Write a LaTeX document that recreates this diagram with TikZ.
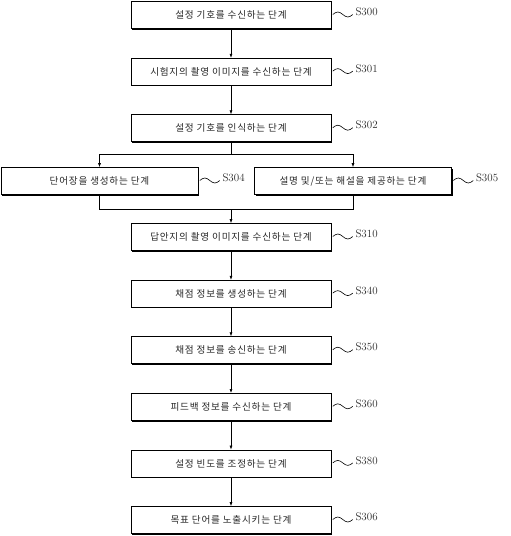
\documentclass[tikz,border=0pt]{standalone}
\usepackage{fontspec}
\usepackage{tikz}
\usetikzlibrary{arrows.meta, positioning, calc, shadows}
\newfontfamily\krfont[LetterSpace=8]{Noto Sans CJK KR}
\definecolor{inkgray}{RGB}{40,40,40}

\begin{document}
\begin{tikzpicture}[
    x=1pt, y=1pt,
    node distance=29pt,
    stepbox/.style={draw=black, fill=white, line width=0.6pt, minimum width=200pt, minimum height=27pt,
                    inner sep=0pt, font=\krfont\fontsize{9.6}{11}\selectfont, text=inkgray,
                    drop shadow={shadow xshift=1.2pt, shadow yshift=-1.2pt, fill=black, opacity=1}},
    sidebox/.style={stepbox, minimum width=197pt},
    steplabel/.style={font=\fontsize{11}{13}\selectfont, text=inkgray, inner sep=1pt, anchor=west},
    arr/.style={-{Latex[length=4pt, width=3pt]}, line width=0.6pt},
    plain/.style={line width=0.6pt},
]
\useasboundingbox (0,0) rectangle (511,-536);

% --- Upper chain ---
\node[stepbox] (s300) at (231,-15) {설정 기호를 수신하는 단계};
\node[stepbox, below=of s300] (s301) {시험지의 촬영 이미지를 수신하는 단계};
\node[stepbox, below=of s301] (s302) {설정 기호를 인식하는 단계};

% --- Branch ---
\node[sidebox] (s304) at (99.5,-181) {단어장을 생성하는 단계};
\node[sidebox] (s305) at (353,-181) {설명 및/또는 해설을 제공하는 단계};

% --- Lower chain ---
\node[stepbox] (s310) at (231,-237) {답안지의 촬영 이미지를 수신하는 단계};
\node[stepbox, below=of s310] (s340) {채점 정보를 생성하는 단계};
\node[stepbox, below=of s340] (s350) {채점 정보를 송신하는 단계};
\node[stepbox, below=of s350] (s360) {피드백 정보를 수신하는 단계};
\node[stepbox, below=of s360] (s380) {설정 빈도를 조정하는 단계};
\node[stepbox, below=of s380] (s306) {목표 단어를 노출시키는 단계};

% --- Arrows: chain ---
\draw[arr] (s300) -- (s301);
\draw[arr] (s301) -- (s302);
\draw[arr] (s310) -- (s340);
\draw[arr] (s340) -- (s350);
\draw[arr] (s350) -- (s360);
\draw[arr] (s360) -- (s380);
\draw[arr] (s380) -- (s306);

% --- Arrows: split and merge ---
\coordinate (split) at ($(s302.south)!0.5!(s304.north -| s302.south)$);
\coordinate (merge) at ($(s310.north)!0.5!(s304.south -| s310.north)$);
\draw[plain] (s302.south) -- (split);
\draw[arr] (split) -| (s304.north);
\draw[arr] (split) -| (s305.north);
\draw[plain] (s304.south) |- (merge);
\draw[plain] (s305.south) |- (merge);
\draw[arr] (merge) -- (s310.north);

% --- Step labels ---
\foreach \n/\t in {s300/S300, s301/S301, s302/S302, s304/S304, s305/S305, s310/S310,
                   s340/S340, s350/S350, s360/S360, s380/S380, s306/S306} {
  \draw[plain] (\n.east) ++(1.5,0.5) sin ++(5,2.5) cos ++(5,-2.5) sin ++(5,-2.5) cos ++(5,2.5)
    coordinate (\n-tip);
  \node[steplabel] (\n-lbl) at ($(\n-tip)+(1.5,2.5)$) {\t};
}

\end{tikzpicture}
\end{document}
